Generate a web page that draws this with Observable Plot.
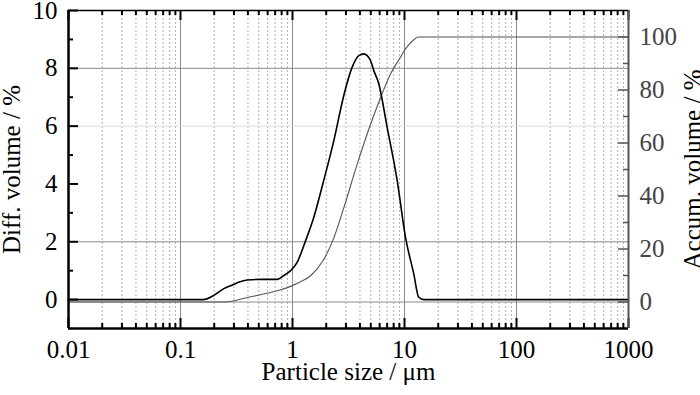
<!DOCTYPE html>
<html>
<head>
<meta charset="utf-8">
<script src="https://cdn.jsdelivr.net/npm/d3@7"></script>
<script src="https://cdn.jsdelivr.net/npm/@observablehq/plot@0.6"></script>
<style>
  html, body { margin: 0; padding: 0; background: #fff; }
  #chart svg { display: block; font-family: "Liberation Serif", "DejaVu Serif", serif; }
  #chart svg text { font-family: "Liberation Serif", "DejaVu Serif", serif; }
</style>
</head>
<body>
<div id="chart"></div>
<script>
// ---- data ----
const diffSize  = [0.01, 0.16, 0.197, 0.242, 0.297, 0.33, 0.394, 0.55, 0.73, 0.836, 0.96, 1.10, 1.31, 1.55, 1.90, 2.34, 2.87, 3.41, 3.91, 4.33, 4.97, 5.32, 5.90, 7.0, 8.6, 10.2, 12.1, 13.4, 14.9, 1000];
const diffValue = [0,    0,    0.14,  0.37,  0.52,  0.60, 0.68,  0.70, 0.70, 0.83,  1.00, 1.29, 2.04, 2.85, 4.12, 5.50, 7.06, 8.04, 8.44, 8.50, 8.27, 7.92, 7.46, 5.96, 4.12, 2.16, 0.89, 0.08, 0.0,  0];

const accSize  = [0.01, 0.252, 0.394, 0.594, 0.78, 0.96, 1.18, 1.45, 1.9, 2.34, 2.87, 3.78, 4.97, 6.1, 7.5, 9.2, 10.2, 11.7, 13.4, 1000];
const accValue = [0,    0,     1.7,   3.3,   4.6,  5.9,  7.6,  9.9,  16,  24.2, 35.5, 52,   67,   77,  86,  92.4, 95.5, 98.4, 100, 100];

const xMajorTicks = [0.01, 0.1, 1, 10, 100, 1000];
const xMinorTicks = [0.02,0.03,0.04,0.05,0.06,0.07,0.08,0.09, 0.2,0.3,0.4,0.5,0.6,0.7,0.8,0.9, 2,3,4,5,6,7,8,9, 20,30,40,50,60,70,80,90, 200,300,400,500,600,700,800,900];
const xGridMajor = [0.1, 1, 10, 100];
const yLeftMajor = [0, 2, 4, 6, 8, 10];
const yLeftMinor = [1, 3, 5, 7, 9];
const yRightMajor = [0, 20, 40, 60, 80, 100];
const yRightMinor = [10, 30, 50, 70, 90];
const yGridDark = [2, 8];
const yGridLight = [6];
const yRightGrid = [0];

const xTitle = "Particle size / μm";
const yLeftTitle = "Diff. volume / %";
const yRightTitle = "Accum. volume / %";

// ---- scales ----
const xDomain = [0.01, 1000];
const yLeftDomain = [-1, 10];
const yRightDomain = [-10, 110];
// map a right-axis value into left-axis units (shared y scale)
const toLeft = v => yLeftDomain[0] + (v - yRightDomain[0]) / (yRightDomain[1] - yRightDomain[0]) * (yLeftDomain[1] - yLeftDomain[0]);
const fromLeft = v => yRightDomain[0] + (v - yLeftDomain[0]) / (yLeftDomain[1] - yLeftDomain[0]) * (yRightDomain[1] - yRightDomain[0]);

const diffData = diffSize.map((s, i) => ({size: s, v: diffValue[i]}));
const accData = accSize.map((s, i) => ({size: s, v: toLeft(accValue[i])}));

const W = 700, H = 395, mL = 68, mR = 72, mT = 10, mB = 67;
const fw = W - mL - mR, fh = H - mT - mB;
const FS = 25;
const FONT = "Liberation Serif";

const chart = Plot.plot({
  width: W, height: H,
  marginLeft: mL, marginRight: mR, marginTop: mT, marginBottom: mB,
  x: {type: "log", domain: xDomain, label: null},
  y: {domain: yLeftDomain, label: null},
  style: {fontFamily: FONT, fontSize: FS + "px", background: "#fff", color: "#000", overflow: "visible"},
  marks: [
    // grid
    Plot.ruleX(xMinorTicks, {stroke: "#b0b0b0", strokeDasharray: "2,2", strokeWidth: 1}),
    Plot.ruleX(xGridMajor, {stroke: "#8a8a8a", strokeWidth: 1}),
    Plot.ruleY(yGridDark, {stroke: "#8a8a8a", strokeWidth: 1}),
    Plot.ruleY(yGridLight, {stroke: "#dddddd", strokeWidth: 1}),
    Plot.ruleY(yRightGrid.map(toLeft), {stroke: "#8a8a8a", strokeWidth: 1}),
    // curves
    Plot.line(accData, {x: "size", y: "v", stroke: "#555", strokeWidth: 1.1, curve: "monotone-x"}),
    Plot.line(diffData, {x: "size", y: "v", stroke: "#000", strokeWidth: 1.6, curve: "monotone-x"}),
    // inward ticks: bottom & top
    Plot.tickX(xMajorTicks, {stroke: "#000", strokeWidth: 2, insetTop: fh - 10}),
    Plot.tickX(xMinorTicks, {stroke: "#000", strokeWidth: 2, insetTop: fh - 5}),
    Plot.tickX(xMajorTicks, {stroke: "#000", strokeWidth: 2, insetBottom: fh - 10}),
    Plot.tickX(xMinorTicks, {stroke: "#000", strokeWidth: 2, insetBottom: fh - 5}),
    // inward ticks: left & right
    Plot.tickY(yLeftMajor, {stroke: "#000", strokeWidth: 2, insetRight: fw - 10}),
    Plot.tickY(yLeftMinor, {stroke: "#000", strokeWidth: 2, insetRight: fw - 5}),
    Plot.tickY(yRightMajor.map(toLeft), {stroke: "#555", strokeWidth: 1.5, insetLeft: fw - 10}),
    Plot.tickY(yRightMinor.map(toLeft), {stroke: "#555", strokeWidth: 1.5, insetLeft: fw - 5}),
    // spines
    Plot.ruleX([xDomain[1]], {stroke: "#555", strokeWidth: 2}),
    Plot.ruleY([yLeftDomain[1]], {stroke: "#000", strokeWidth: 1.5}),
    Plot.ruleX([xDomain[0]], {stroke: "#000", strokeWidth: 2.5}),
    Plot.ruleY([yLeftDomain[0]], {stroke: "#000", strokeWidth: 2.5}),
    // tick labels
    Plot.axisX(xMajorTicks, {anchor: "bottom", tickSize: 0, tickPadding: 12, fontSize: FS, fontFamily: FONT, label: null, tickFormat: d => String(d), fill: "#000"}),
    Plot.axisY(yLeftMajor, {anchor: "left", tickSize: 0, tickPadding: 11, fontSize: FS, fontFamily: FONT, label: null, tickFormat: d => String(d), fill: "#000"}),
    Plot.axisY(yRightMajor.map(toLeft), {anchor: "right", tickSize: 0, tickPadding: 11, fontSize: FS, fontFamily: FONT, label: null, tickFormat: d => String(Math.round(fromLeft(d))), fill: "#444"}),
    // axis titles
    Plot.text([xTitle], {frameAnchor: "bottom", dy: 43, text: d => d, fontSize: FS, fontFamily: FONT, fill: "#000", textAnchor: "middle", lineAnchor: "middle"}),
    Plot.text([yLeftTitle], {frameAnchor: "left", dx: -57, rotate: -90, text: d => d, fontSize: FS, fontFamily: FONT, fill: "#000", textAnchor: "middle", lineAnchor: "middle"}),
    Plot.text([yRightTitle], {frameAnchor: "right", dx: 64, rotate: -90, text: d => d, fontSize: FS, fontFamily: FONT, fill: "#000", textAnchor: "middle", lineAnchor: "middle"})
  ]
});
document.getElementById("chart").appendChild(chart);
</script>
</body>
</html>
